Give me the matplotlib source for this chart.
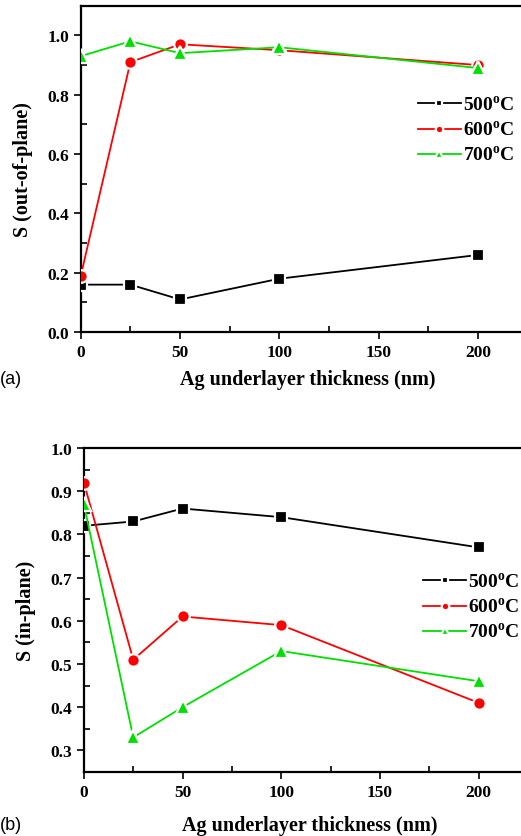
import matplotlib
matplotlib.use("Agg")
from matplotlib import pyplot as plt
from matplotlib.ticker import MultipleLocator

plt.rcParams['font.family'] = ['Liberation Serif', 'DejaVu Serif']
plt.rcParams['mathtext.fontset'] = 'custom'
plt.rcParams['mathtext.rm'] = 'Liberation Serif'
plt.rcParams['mathtext.bf'] = 'Liberation Serif:bold'

# Ag underlayer thickness (nm)
thickness = [0, 25, 50, 100, 200]
temps = ["500", "600", "700"]

# (a) out-of-plane squareness
s_out_500 = [0.16, 0.16, 0.11, 0.18, 0.26]
s_out_600 = [0.19, 0.91, 0.97, 0.95, 0.90]
s_out_700 = [0.93, 0.98, 0.94, 0.96, 0.89]

# (b) in-plane squareness
s_in_500 = [0.82, 0.83, 0.86, 0.84, 0.77]
s_in_600 = [0.92, 0.51, 0.61, 0.59, 0.41]
s_in_700 = [0.87, 0.33, 0.40, 0.53, 0.46]

colors = ['black', '#ff0000', '#00e000']
markers = ['s', 'o', '^']
msizes = [8, 9, 10]


def draw_panel(ax, series, ylim, ylabel, yticks, legend_anchor):
    for i, vals in enumerate(series):
        ax.plot(thickness, vals, color=colors[i], lw=1.3, marker=markers[i],
                markersize=msizes[i], markerfacecolor=colors[i],
                markeredgecolor='white', markeredgewidth=1.6,
                label=r"%s$^\mathbf{o}$C" % temps[i], zorder=3)
    ax.set_xlim(0, 223)
    ax.set_ylim(*ylim)
    ax.set_xticks([0, 50, 100, 150, 200])
    ax.xaxis.set_minor_locator(MultipleLocator(25))
    ax.set_yticks(yticks)
    ax.yaxis.set_minor_locator(MultipleLocator((yticks[1] - yticks[0]) / 2))
    ax.tick_params(which='major', direction='out', length=5, width=1.2, labelsize=12.5)
    ax.tick_params(which='minor', direction='in', length=4, width=1.2)
    for lab in ax.get_xticklabels() + ax.get_yticklabels():
        lab.set_fontweight('bold')
    for sp in ax.spines.values():
        sp.set_linewidth(1.6)
    ax.spines['right'].set_visible(False)
    ax.set_ylabel(ylabel, fontsize=14.5, fontweight='bold', labelpad=10)
    leg = ax.legend(loc='center', bbox_to_anchor=legend_anchor, frameon=False,
                    prop={'weight': 'bold', 'size': 14},
                    handlelength=2.2, handletextpad=0.1, labelspacing=0.3,
                    markerscale=0.6)
    return leg


fig = plt.figure(figsize=(5.21, 8.37), dpi=100)

ax1 = fig.add_axes([0.155, 0.602, 0.85, 0.39])
draw_panel(ax1, [s_out_500, s_out_600, s_out_700], (0, 1.1), "S (out-of-plane)",
           [0.0, 0.2, 0.4, 0.6, 0.8, 1.0], (0.87, 0.62))

ax2 = fig.add_axes([0.161, 0.0765, 0.845, 0.387])
draw_panel(ax2, [s_in_500, s_in_600, s_in_700], (0.25, 1.0), "S (in-plane)",
           [0.3, 0.4, 0.5, 0.6, 0.7, 0.8, 0.9, 1.0], (0.88, 0.51))

fig.text(0.59, 1 - 380 / 837, "Ag underlayer thickness (nm)", ha='center', va='center',
         fontsize=14.5, fontweight='bold')
fig.text(0.595, 1 - 826 / 837, "Ag underlayer thickness (nm)", ha='center', va='center',
         fontsize=14.5, fontweight='bold')
fig.text(0.0, 1 - 380 / 837, "(a)", ha='left', va='center', fontsize=13,
         family='Liberation Sans')
fig.text(0.0, 1 - 826 / 837, "(b)", ha='left', va='center', fontsize=13,
         family='Liberation Sans')

fig.savefig("out.png", dpi=100)
